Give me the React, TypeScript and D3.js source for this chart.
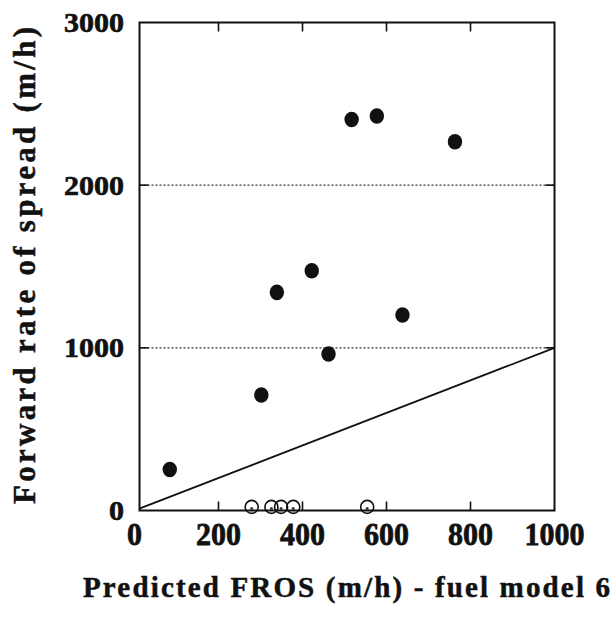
import React from "react";
import * as d3 from "d3";

// Filled circles: observed forward rate of spread vs predicted FROS
const predictedFros = [84, 302, 339, 422, 462, 517, 577, 638, 763];
const observedFros = [252, 710, 1341, 1474, 962, 2404, 2425, 1202, 2267];
// Open circles: fires with ~zero observed spread
const zeroPredicted = [279, 326, 349, 378, 554];
const zeroObserved = [22, 22, 22, 22, 22];

const xTicks = [0, 200, 400, 600, 800, 1000];
const yTicks = [0, 1000, 2000, 3000];
const gridValues = [1000, 2000];
const oneToOne = [0, 1000];

const xTitle = "Predicted FROS (m/h) - fuel model 6";
const yTitle = "Forward rate of spread (m/h)";

const W = 616;
const H = 621;

export default function App() {
  const x = d3.scaleLinear().domain([0, 1000]).range([134.5, 554.5]);
  const y = d3.scaleLinear().domain([0, 3000]).range([510.5, 22.5]);

  const left = 139.5;
  const right = x(1000);
  const top = y(3000);
  const bottom = y(0);
  const tickLen = 9;
  const font = "'Liberation Serif', 'Times New Roman', serif";

  const line = d3
    .line<number>()
    .x((d) => x(d))
    .y((d) => y(d));

  return (
    <svg
      width={W}
      height={H}
      style={{ position: "absolute", left: 0, top: 0, background: "#fff" }}
    >
      <defs>
        <clipPath id="plotClip">
          <rect x={left} y={top} width={right - left} height={bottom - top} />
        </clipPath>
      </defs>

      {/* dotted gridlines */}
      {gridValues.map((v) => (
        <line
          key={"g" + v}
          x1={left}
          x2={right}
          y1={y(v)}
          y2={y(v)}
          stroke="#333"
          strokeWidth={1.4}
          strokeDasharray="2 2"
        />
      ))}

      {/* 1:1 line */}
      <path
        d={line(oneToOne) || ""}
        stroke="#111"
        strokeWidth={1.8}
        fill="none"
        clipPath="url(#plotClip)"
      />

      {/* frame */}
      <rect
        x={left}
        y={top}
        width={right - left}
        height={bottom - top}
        fill="none"
        stroke="#111"
        strokeWidth={2}
      />

      {/* x ticks (inner, bottom and top) */}
      {xTicks
        .filter((t) => t > 0 && t < 1000)
        .map((t) => (
          <g key={"xt" + t}>
            <line x1={x(t)} x2={x(t)} y1={bottom} y2={bottom - tickLen} stroke="#111" strokeWidth={1.6} />
            <line x1={x(t)} x2={x(t)} y1={top} y2={top + tickLen} stroke="#111" strokeWidth={1.6} />
          </g>
        ))}
      {/* y ticks (inner, left and right) */}
      {yTicks
        .filter((t) => t > 0 && t < 3000)
        .map((t) => (
          <g key={"yt" + t}>
            <line x1={left} x2={left + tickLen} y1={y(t)} y2={y(t)} stroke="#111" strokeWidth={1.6} />
            <line x1={right} x2={right - tickLen} y1={y(t)} y2={y(t)} stroke="#111" strokeWidth={1.6} />
          </g>
        ))}

      {/* x tick labels */}
      {xTicks.map((t) => (
        <g key={"xl" + t} transform={`translate(${x(t)},545) scale(1,1.08)`}>
          <text
            x={0}
            y={0}
            textAnchor="middle"
            fontFamily={font}
            fontWeight="bold"
            fontSize={30}
            fill="#111"
            stroke="#111"
            strokeWidth={0.7}
          >
            {t}
          </text>
        </g>
      ))}

      {/* y tick labels */}
      {yTicks.map((t) => (
        <g key={"yl" + t} transform={`translate(124,${y(t) + 9.5}) scale(1,0.9)`}>
          <text
            x={0}
            y={0}
            textAnchor="end"
            fontFamily={font}
            fontWeight="bold"
            fontSize={30}
            fill="#111"
            stroke="#111"
            strokeWidth={0.7}
          >
            {t}
          </text>
        </g>
      ))}

      {/* open circles */}
      {zeroPredicted.map((v, i) => (
        <g key={"o" + i}>
          <circle cx={x(v)} cy={y(zeroObserved[i])} r={6.5} fill="none" stroke="#111" strokeWidth={1.6} />
          <circle cx={x(v)} cy={y(zeroObserved[i]) + 1.5} r={1.5} fill="#333" />
        </g>
      ))}

      {/* filled circles */}
      {predictedFros.map((v, i) => (
        <ellipse
          key={"f" + i}
          cx={x(v)}
          cy={y(observedFros[i])}
          rx={7.2}
          ry={7.8}
          fill="#111"
        />
      ))}

      {/* axis titles */}
      <text
        x={83}
        y={597}
        fontFamily={font}
        fontWeight="bold"
        fontSize={29}
        fill="#111"
        stroke="#111"
        strokeWidth={0.5}
        textLength={527}
        lengthAdjust="spacing"
      >
        {xTitle}
      </text>
      <text
        transform="translate(35,504) rotate(-90)"
        x={0}
        y={0}
        fontFamily={font}
        fontWeight="bold"
        fontSize={31}
        fill="#111"
        stroke="#111"
        strokeWidth={0.5}
        textLength={477}
        lengthAdjust="spacing"
      >
        {yTitle}
      </text>
    </svg>
  );
}
